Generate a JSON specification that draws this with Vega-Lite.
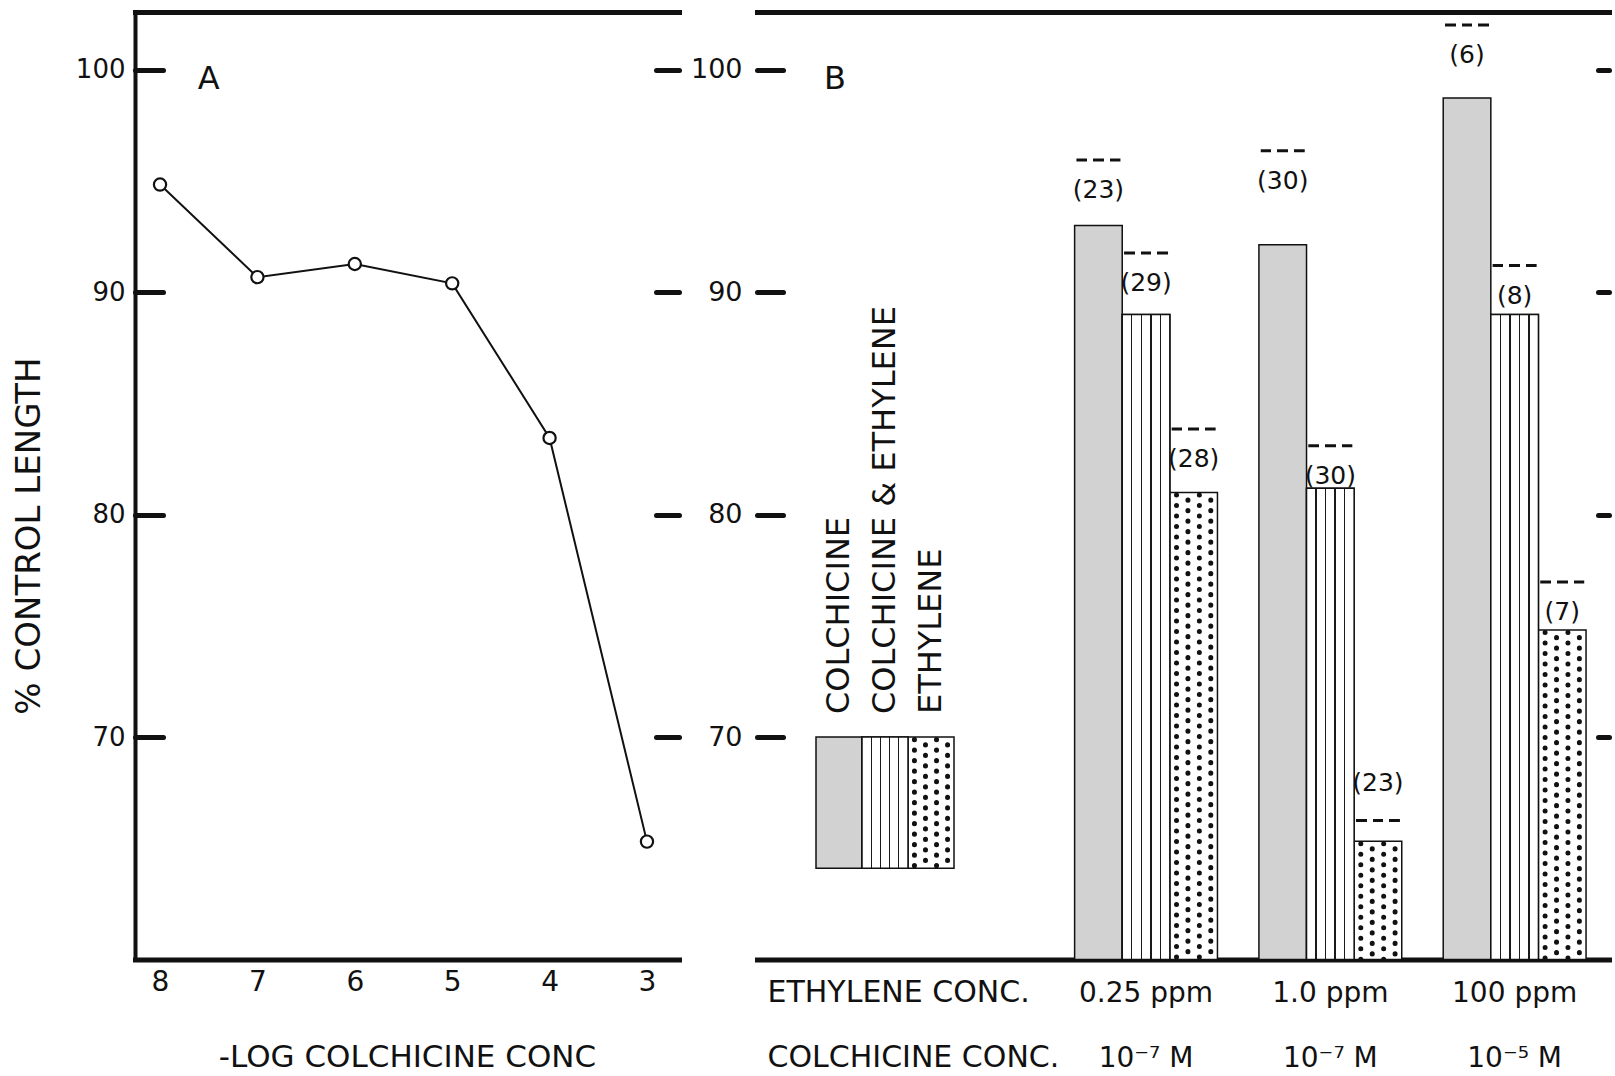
{
  "$schema": "https://vega.github.io/schema/vega-lite/v6.json",
  "background": "white",
  "padding": {"left": 12, "top": 12, "right": 0, "bottom": 0},
  "autosize": {"type": "pad"},
  "bounds": "flush",
  "spacing": 78,
  "config": {
    "font": "DejaVu Sans",
    "view": {"stroke": null},
    "axis": {"grid": false, "labelColor": "#111111", "titleColor": "#111111", "domainColor": "#111111", "tickColor": "#111111", "titleFontWeight": "normal", "labelFont": "DejaVu Sans", "titleFont": "DejaVu Sans", "labelFlush": false, "labelOverlap": false},
    "legend": {"disable": true}
  },
  "datasets": {
    "growth": [
      {"neg_log_conc": 8, "pct_control": 94.84},
      {"neg_log_conc": 7, "pct_control": 90.68},
      {"neg_log_conc": 6, "pct_control": 91.27},
      {"neg_log_conc": 5, "pct_control": 90.4},
      {"neg_log_conc": 4, "pct_control": 83.45},
      {"neg_log_conc": 3, "pct_control": 65.3}
    ],
    "bars": [
      {"treatment": "0.25 ppm|10⁻⁷ M", "ethylene": "0.25 ppm", "colchicine": "10⁻⁷ M", "series": "COLCHICINE", "value": 93.0, "err": 95.95, "n": 23},
      {"treatment": "0.25 ppm|10⁻⁷ M", "ethylene": "0.25 ppm", "colchicine": "10⁻⁷ M", "series": "COLCHICINE & ETHYLENE", "value": 89.0, "err": 91.76, "n": 29},
      {"treatment": "0.25 ppm|10⁻⁷ M", "ethylene": "0.25 ppm", "colchicine": "10⁻⁷ M", "series": "ETHYLENE", "value": 81.0, "err": 83.85, "n": 28},
      {"treatment": "1.0 ppm|10⁻⁷ M", "ethylene": "1.0 ppm", "colchicine": "10⁻⁷ M", "series": "COLCHICINE", "value": 92.14, "err": 96.36, "n": 30},
      {"treatment": "1.0 ppm|10⁻⁷ M", "ethylene": "1.0 ppm", "colchicine": "10⁻⁷ M", "series": "COLCHICINE & ETHYLENE", "value": 81.19, "err": 83.1, "n": 30},
      {"treatment": "1.0 ppm|10⁻⁷ M", "ethylene": "1.0 ppm", "colchicine": "10⁻⁷ M", "series": "ETHYLENE", "value": 65.32, "err": 66.25, "n": 23},
      {"treatment": "100 ppm|10⁻⁵ M", "ethylene": "100 ppm", "colchicine": "10⁻⁵ M", "series": "COLCHICINE", "value": 98.73, "err": 102.02, "n": 6},
      {"treatment": "100 ppm|10⁻⁵ M", "ethylene": "100 ppm", "colchicine": "10⁻⁵ M", "series": "COLCHICINE & ETHYLENE", "value": 89.0, "err": 91.2, "n": 8},
      {"treatment": "100 ppm|10⁻⁵ M", "ethylene": "100 ppm", "colchicine": "10⁻⁵ M", "series": "ETHYLENE", "value": 74.82, "err": 76.97, "n": 7}
    ],
    "legend": [
      {"series": "COLCHICINE"},
      {"series": "COLCHICINE & ETHYLENE"},
      {"series": "ETHYLENE"}
    ],
    "panels": [
      {"panel": "A"},
      {"panel": "B"}
    ]
  },
  "hconcat": [
    {
      "width": 544,
      "height": 947.5,
      "layer": [
        {
          "data": {"name": "growth"},
          "mark": {"type": "line", "color": "#111111", "strokeWidth": 2},
          "encoding": {
            "x": {"field": "neg_log_conc", "type": "quantitative",
              "scale": {"domain": [2.671, 8.257], "reverse": true, "nice": false, "zero": false},
              "axis": {"orient": "bottom", "values": [8, 7, 6, 5, 4, 3], "format": "d", "domain": true, "domainWidth": 5, "domainCap": "square", "ticks": false, "tickSize": 0, "labelFontSize": 28, "labelPadding": 9, "title": "-LOG COLCHICINE CONC", "titleFontSize": 31, "titleX": 272, "titleY": 107, "titleAlign": "center", "titleBaseline": "alphabetic"}},
            "y": {"field": "pct_control", "type": "quantitative",
              "scale": {"domain": [60, 102.6], "nice": false, "zero": false},
              "axis": {"orient": "left", "values": [70, 80, 90, 100], "domain": true, "domainWidth": 4, "domainCap": "square", "ticks": true, "tickSize": -28, "tickWidth": 5, "tickCap": "round", "labelFontSize": 26, "labelPadding": 38, "title": "% CONTROL LENGTH", "titleFontSize": 34, "titleAngle": 270, "titleX": -96, "titleY": 523.5, "titleAlign": "center", "titleBaseline": "alphabetic"}}
          }
        },
        {
          "data": {"name": "growth"},
          "mark": {"type": "point", "shape": "circle", "filled": true, "fill": "white", "stroke": "#111111", "strokeWidth": 2.2, "size": 150, "opacity": 1},
          "encoding": {
            "x": {"field": "neg_log_conc", "type": "quantitative",
              "scale": {"domain": [2.671, 8.257], "reverse": true, "nice": false, "zero": false},
              "axis": {"orient": "top", "domain": true, "domainWidth": 5, "domainCap": "square", "ticks": false, "labels": false, "title": null}},
            "y": {"field": "pct_control", "type": "quantitative",
              "scale": {"domain": [60, 102.6], "nice": false, "zero": false},
              "axis": {"orient": "right", "values": [70, 80, 90, 100], "domain": false, "ticks": true, "tickSize": -23, "tickWidth": 5, "tickCap": "round", "labels": false, "title": null}}
          }
        },
        {
          "data": {"name": "panels"},
          "transform": [{"filter": "datum.panel === 'A'"}],
          "mark": {"type": "text", "fontSize": 32, "align": "center", "baseline": "middle", "color": "#111111"},
          "encoding": {
            "x": {"datum": 7.5, "type": "quantitative", "scale": {"domain": [2.671, 8.257], "reverse": true, "nice": false, "zero": false}, "axis": null},
            "y": {"datum": 99.6, "type": "quantitative", "scale": {"domain": [60, 102.6], "nice": false, "zero": false}, "axis": null},
            "text": {"field": "panel", "type": "nominal"}
          }
        }
      ],
      "resolve": {"axis": {"x": "independent", "y": "independent"}}
    },
    {
      "width": 852,
      "height": 947.5,
      "layer": [
        {
          "data": {"name": "bars"},
          "mark": {"type": "bar", "stroke": "#111111", "strokeWidth": 1.5},
          "encoding": {
            "x": {"field": "treatment", "type": "nominal",
              "scale": {"type": "band", "domain": ["0.25 ppm|10⁻⁷ M", "1.0 ppm|10⁻⁷ M", "100 ppm|10⁻⁵ M"], "paddingInner": 0.225, "paddingOuter": 0.924, "align": 0.9326},
              "axis": {"orient": "bottom", "domain": true, "domainWidth": 5, "domainCap": "square", "ticks": false, "tickSize": 0, "labelAngle": 0, "labelFontSize": 28, "labelPadding": 20, "labelLineHeight": 65, "labelExpr": "split(datum.label, '|')", "labelLimit": 0,
                "title": ["ETHYLENE CONC.", "COLCHICINE CONC."], "titleFontSize": 30, "titleX": 10, "titleY": 42, "titleAlign": "left", "titleBaseline": "alphabetic", "titleLineHeight": 65, "titleLimit": 0}},
            "xOffset": {"field": "series", "type": "nominal", "scale": {"type": "band", "domain": ["COLCHICINE", "COLCHICINE & ETHYLENE", "ETHYLENE"], "paddingInner": 0, "paddingOuter": 0}},
            "y": {"field": "value", "type": "quantitative",
              "scale": {"domain": [60, 102.6], "nice": false, "zero": false},
              "axis": {"orient": "left", "values": [70, 80, 90, 100], "domain": false, "ticks": true, "tickSize": -26, "tickWidth": 5, "tickCap": "round", "labelFontSize": 27, "labelPadding": 41, "title": null}},
            "y2": {"datum": 60},
            "fill": {"field": "series", "type": "nominal", "scale": {"domain": ["COLCHICINE", "COLCHICINE & ETHYLENE", "ETHYLENE"], "range": ["#d2d2d2", "#ffffff", "#ffffff"]}, "legend": null}
          }
        },
        {
          "data": {"name": "bars"},
          "transform": [{"filter": "datum.series === 'COLCHICINE & ETHYLENE'"}],
          "mark": {"type": "bar", "stroke": "#111111", "strokeWidth": 1.5,
            "fill": {"gradient": "linear", "x1": 0, "y1": 0, "x2": 1, "y2": 0, "stops": [
              {"offset": 0, "color": "#ffffff"},
              {"offset": 0.185, "color": "#ffffff"}, {"offset": 0.185, "color": "#1a1a1a"}, {"offset": 0.215, "color": "#1a1a1a"}, {"offset": 0.215, "color": "#ffffff"},
              {"offset": 0.385, "color": "#ffffff"}, {"offset": 0.385, "color": "#1a1a1a"}, {"offset": 0.415, "color": "#1a1a1a"}, {"offset": 0.415, "color": "#ffffff"},
              {"offset": 0.585, "color": "#ffffff"}, {"offset": 0.585, "color": "#1a1a1a"}, {"offset": 0.615, "color": "#1a1a1a"}, {"offset": 0.615, "color": "#ffffff"},
              {"offset": 0.785, "color": "#ffffff"}, {"offset": 0.785, "color": "#1a1a1a"}, {"offset": 0.815, "color": "#1a1a1a"}, {"offset": 0.815, "color": "#ffffff"},
              {"offset": 1, "color": "#ffffff"}]}},
          "encoding": {
            "x": {"field": "treatment", "type": "nominal",
              "scale": {"type": "band", "domain": ["0.25 ppm|10⁻⁷ M", "1.0 ppm|10⁻⁷ M", "100 ppm|10⁻⁵ M"], "paddingInner": 0.225, "paddingOuter": 0.924, "align": 0.9326}, "axis": null},
            "xOffset": {"field": "series", "type": "nominal", "scale": {"type": "band", "domain": ["COLCHICINE", "COLCHICINE & ETHYLENE", "ETHYLENE"], "paddingInner": 0, "paddingOuter": 0}},
            "y": {"field": "value", "type": "quantitative", "axis": null},
            "y2": {"datum": 60}
          }
        },
        {
          "data": {"name": "bars"},
          "transform": [{"filter": "datum.series === 'ETHYLENE'"}],
          "mark": {"type": "rule", "stroke": "#111111", "strokeWidth": 5, "strokeCap": "round", "strokeDash": [0.1, 10.4], "strokeDashOffset": 8},
          "encoding": {
            "x": {"field": "treatment", "type": "nominal", "bandPosition": 0.7133,
              "scale": {"type": "band", "domain": ["0.25 ppm|10⁻⁷ M", "1.0 ppm|10⁻⁷ M", "100 ppm|10⁻⁵ M"], "paddingInner": 0.225, "paddingOuter": 0.924, "align": 0.9326}, "axis": null},
            "y": {"field": "value", "type": "quantitative", "axis": null},
            "y2": {"datum": 60}
          }
        },
        {
          "data": {"name": "bars"},
          "transform": [{"filter": "datum.series === 'ETHYLENE'"}],
          "mark": {"type": "rule", "stroke": "#111111", "strokeWidth": 5, "strokeCap": "round", "strokeDash": [0.1, 10.4], "strokeDashOffset": 2.8},
          "encoding": {
            "x": {"field": "treatment", "type": "nominal", "bandPosition": 0.7933,
              "scale": {"type": "band", "domain": ["0.25 ppm|10⁻⁷ M", "1.0 ppm|10⁻⁷ M", "100 ppm|10⁻⁵ M"], "paddingInner": 0.225, "paddingOuter": 0.924, "align": 0.9326}, "axis": null},
            "y": {"field": "value", "type": "quantitative", "axis": null},
            "y2": {"datum": 60}
          }
        },
        {
          "data": {"name": "bars"},
          "transform": [{"filter": "datum.series === 'ETHYLENE'"}],
          "mark": {"type": "rule", "stroke": "#111111", "strokeWidth": 5, "strokeCap": "round", "strokeDash": [0.1, 10.4], "strokeDashOffset": 8},
          "encoding": {
            "x": {"field": "treatment", "type": "nominal", "bandPosition": 0.8733,
              "scale": {"type": "band", "domain": ["0.25 ppm|10⁻⁷ M", "1.0 ppm|10⁻⁷ M", "100 ppm|10⁻⁵ M"], "paddingInner": 0.225, "paddingOuter": 0.924, "align": 0.9326}, "axis": null},
            "y": {"field": "value", "type": "quantitative", "axis": null},
            "y2": {"datum": 60}
          }
        },
        {
          "data": {"name": "bars"},
          "transform": [{"filter": "datum.series === 'ETHYLENE'"}],
          "mark": {"type": "rule", "stroke": "#111111", "strokeWidth": 5, "strokeCap": "round", "strokeDash": [0.1, 10.4], "strokeDashOffset": 2.8},
          "encoding": {
            "x": {"field": "treatment", "type": "nominal", "bandPosition": 0.9533,
              "scale": {"type": "band", "domain": ["0.25 ppm|10⁻⁷ M", "1.0 ppm|10⁻⁷ M", "100 ppm|10⁻⁵ M"], "paddingInner": 0.225, "paddingOuter": 0.924, "align": 0.9326}, "axis": null},
            "y": {"field": "value", "type": "quantitative", "axis": null},
            "y2": {"datum": 60}
          }
        },
        {
          "data": {"name": "bars"},
          "mark": {"type": "tick", "orient": "horizontal", "size": 44, "thickness": 3, "opacity": 1,
            "fill": {"gradient": "linear", "x1": 0, "y1": 0, "x2": 1, "y2": 0, "stops": [
              {"offset": 0, "color": "#111111"}, {"offset": 0.24, "color": "#111111"}, {"offset": 0.24, "color": "#ffffff"},
              {"offset": 0.38, "color": "#ffffff"}, {"offset": 0.38, "color": "#111111"}, {"offset": 0.62, "color": "#111111"},
              {"offset": 0.62, "color": "#ffffff"}, {"offset": 0.76, "color": "#ffffff"}, {"offset": 0.76, "color": "#111111"},
              {"offset": 1, "color": "#111111"}]}},
          "encoding": {
            "x": {"field": "treatment", "type": "nominal",
              "scale": {"type": "band", "domain": ["0.25 ppm|10⁻⁷ M", "1.0 ppm|10⁻⁷ M", "100 ppm|10⁻⁵ M"], "paddingInner": 0.225, "paddingOuter": 0.924, "align": 0.9326},
              "axis": {"orient": "top", "domain": true, "domainWidth": 5, "domainCap": "square", "ticks": false, "labels": false, "title": null}},
            "xOffset": {"field": "series", "type": "nominal", "scale": {"type": "band", "domain": ["COLCHICINE", "COLCHICINE & ETHYLENE", "ETHYLENE"], "paddingInner": 0, "paddingOuter": 0}},
            "y": {"field": "err", "type": "quantitative", "axis": null}
          }
        },
        {
          "data": {"name": "bars"},
          "transform": [{"filter": "datum.err - datum.value >= 1.2"}],
          "mark": {"type": "text", "fontSize": 25, "baseline": "middle", "align": "center", "dy": 30, "color": "#111111", "text": {"expr": "'(' + datum.n + ')'"}},
          "encoding": {
            "x": {"field": "treatment", "type": "nominal",
              "scale": {"type": "band", "domain": ["0.25 ppm|10⁻⁷ M", "1.0 ppm|10⁻⁷ M", "100 ppm|10⁻⁵ M"], "paddingInner": 0.225, "paddingOuter": 0.924, "align": 0.9326}, "axis": null},
            "xOffset": {"field": "series", "type": "nominal", "scale": {"type": "band", "domain": ["COLCHICINE", "COLCHICINE & ETHYLENE", "ETHYLENE"], "paddingInner": 0, "paddingOuter": 0}},
            "y": {"field": "err", "type": "quantitative", "axis": null}
          }
        },
        {
          "data": {"name": "bars"},
          "transform": [{"filter": "datum.err - datum.value < 1.2"}],
          "mark": {"type": "text", "fontSize": 25, "baseline": "middle", "align": "center", "dy": -37, "color": "#111111", "text": {"expr": "'(' + datum.n + ')'"}},
          "encoding": {
            "x": {"field": "treatment", "type": "nominal",
              "scale": {"type": "band", "domain": ["0.25 ppm|10⁻⁷ M", "1.0 ppm|10⁻⁷ M", "100 ppm|10⁻⁵ M"], "paddingInner": 0.225, "paddingOuter": 0.924, "align": 0.9326}, "axis": null},
            "xOffset": {"field": "series", "type": "nominal", "scale": {"type": "band", "domain": ["COLCHICINE", "COLCHICINE & ETHYLENE", "ETHYLENE"], "paddingInner": 0, "paddingOuter": 0}},
            "y": {"field": "err", "type": "quantitative", "axis": null}
          }
        },
        {
          "data": {"name": "legend"},
          "mark": {"type": "bar", "stroke": "#111111", "strokeWidth": 1.5},
          "encoding": {
            "x": {"field": "series", "type": "nominal", "scale": {"type": "band", "domain": ["COLCHICINE", "COLCHICINE & ETHYLENE", "ETHYLENE"], "range": [59, 197], "paddingInner": 0, "paddingOuter": 0}, "axis": null},
            "y": {"datum": 70, "type": "quantitative", "scale": {"domain": [60, 102.6], "nice": false, "zero": false},
              "axis": {"orient": "right", "values": [70, 80, 90, 100], "domain": false, "ticks": true, "tickSize": -11, "tickWidth": 5, "tickCap": "round", "labels": false, "title": null}},
            "y2": {"datum": 64.1},
            "fill": {"field": "series", "type": "nominal", "scale": {"domain": ["COLCHICINE", "COLCHICINE & ETHYLENE", "ETHYLENE"], "range": ["#d2d2d2", "#ffffff", "#ffffff"]}, "legend": null}
          }
        },
        {
          "data": {"name": "legend"},
          "transform": [{"filter": "datum.series === 'COLCHICINE & ETHYLENE'"}],
          "mark": {"type": "bar", "stroke": "#111111", "strokeWidth": 1.5,
            "fill": {"gradient": "linear", "x1": 0, "y1": 0, "x2": 1, "y2": 0, "stops": [
              {"offset": 0, "color": "#ffffff"},
              {"offset": 0.185, "color": "#ffffff"}, {"offset": 0.185, "color": "#1a1a1a"}, {"offset": 0.215, "color": "#1a1a1a"}, {"offset": 0.215, "color": "#ffffff"},
              {"offset": 0.385, "color": "#ffffff"}, {"offset": 0.385, "color": "#1a1a1a"}, {"offset": 0.415, "color": "#1a1a1a"}, {"offset": 0.415, "color": "#ffffff"},
              {"offset": 0.585, "color": "#ffffff"}, {"offset": 0.585, "color": "#1a1a1a"}, {"offset": 0.615, "color": "#1a1a1a"}, {"offset": 0.615, "color": "#ffffff"},
              {"offset": 0.785, "color": "#ffffff"}, {"offset": 0.785, "color": "#1a1a1a"}, {"offset": 0.815, "color": "#1a1a1a"}, {"offset": 0.815, "color": "#ffffff"},
              {"offset": 1, "color": "#ffffff"}]}},
          "encoding": {
            "x": {"field": "series", "type": "nominal", "scale": {"type": "band", "domain": ["COLCHICINE", "COLCHICINE & ETHYLENE", "ETHYLENE"], "range": [59, 197], "paddingInner": 0, "paddingOuter": 0}, "axis": null},
            "y": {"datum": 70, "type": "quantitative", "axis": null},
            "y2": {"datum": 64.1}
          }
        },
        {
          "data": {"name": "legend"},
          "transform": [{"filter": "datum.series === 'ETHYLENE'"}],
          "mark": {"type": "rule", "stroke": "#111111", "strokeWidth": 5, "strokeCap": "round", "strokeDash": [0.1, 10.4], "strokeDashOffset": 8},
          "encoding": {
            "x": {"field": "series", "type": "nominal", "bandPosition": 0.14, "scale": {"type": "band", "domain": ["COLCHICINE", "COLCHICINE & ETHYLENE", "ETHYLENE"], "range": [59, 197], "paddingInner": 0, "paddingOuter": 0}, "axis": null},
            "y": {"datum": 70, "type": "quantitative", "axis": null},
            "y2": {"datum": 64.1}
          }
        },
        {
          "data": {"name": "legend"},
          "transform": [{"filter": "datum.series === 'ETHYLENE'"}],
          "mark": {"type": "rule", "stroke": "#111111", "strokeWidth": 5, "strokeCap": "round", "strokeDash": [0.1, 10.4], "strokeDashOffset": 2.8},
          "encoding": {
            "x": {"field": "series", "type": "nominal", "bandPosition": 0.38, "scale": {"type": "band", "domain": ["COLCHICINE", "COLCHICINE & ETHYLENE", "ETHYLENE"], "range": [59, 197], "paddingInner": 0, "paddingOuter": 0}, "axis": null},
            "y": {"datum": 70, "type": "quantitative", "axis": null},
            "y2": {"datum": 64.1}
          }
        },
        {
          "data": {"name": "legend"},
          "transform": [{"filter": "datum.series === 'ETHYLENE'"}],
          "mark": {"type": "rule", "stroke": "#111111", "strokeWidth": 5, "strokeCap": "round", "strokeDash": [0.1, 10.4], "strokeDashOffset": 8},
          "encoding": {
            "x": {"field": "series", "type": "nominal", "bandPosition": 0.62, "scale": {"type": "band", "domain": ["COLCHICINE", "COLCHICINE & ETHYLENE", "ETHYLENE"], "range": [59, 197], "paddingInner": 0, "paddingOuter": 0}, "axis": null},
            "y": {"datum": 70, "type": "quantitative", "axis": null},
            "y2": {"datum": 64.1}
          }
        },
        {
          "data": {"name": "legend"},
          "transform": [{"filter": "datum.series === 'ETHYLENE'"}],
          "mark": {"type": "rule", "stroke": "#111111", "strokeWidth": 5, "strokeCap": "round", "strokeDash": [0.1, 10.4], "strokeDashOffset": 2.8},
          "encoding": {
            "x": {"field": "series", "type": "nominal", "bandPosition": 0.86, "scale": {"type": "band", "domain": ["COLCHICINE", "COLCHICINE & ETHYLENE", "ETHYLENE"], "range": [59, 197], "paddingInner": 0, "paddingOuter": 0}, "axis": null},
            "y": {"datum": 70, "type": "quantitative", "axis": null},
            "y2": {"datum": 64.1}
          }
        },
        {
          "data": {"name": "legend"},
          "mark": {"type": "text", "angle": 270, "align": "left", "baseline": "middle", "fontSize": 32, "dx": 23, "color": "#111111"},
          "encoding": {
            "x": {"field": "series", "type": "nominal", "scale": {"type": "band", "domain": ["COLCHICINE", "COLCHICINE & ETHYLENE", "ETHYLENE"], "range": [59, 197], "paddingInner": 0, "paddingOuter": 0}, "axis": null},
            "y": {"datum": 70, "type": "quantitative", "axis": null},
            "text": {"field": "series", "type": "nominal"}
          }
        },
        {
          "data": {"name": "panels"},
          "transform": [{"filter": "datum.panel === 'B'"}],
          "mark": {"type": "text", "fontSize": 32, "align": "center", "baseline": "middle", "dx": -4, "color": "#111111"},
          "encoding": {
            "x": {"datum": "COLCHICINE", "type": "nominal", "scale": {"type": "band", "domain": ["COLCHICINE", "COLCHICINE & ETHYLENE", "ETHYLENE"], "range": [59, 197], "paddingInner": 0, "paddingOuter": 0}, "axis": null},
            "y": {"datum": 99.6, "type": "quantitative", "axis": null},
            "text": {"field": "panel", "type": "nominal"}
          }
        }
      ],
      "resolve": {"scale": {"x": "independent", "xOffset": "independent"}, "axis": {"x": "independent", "y": "independent"}}
    }
  ]
}
